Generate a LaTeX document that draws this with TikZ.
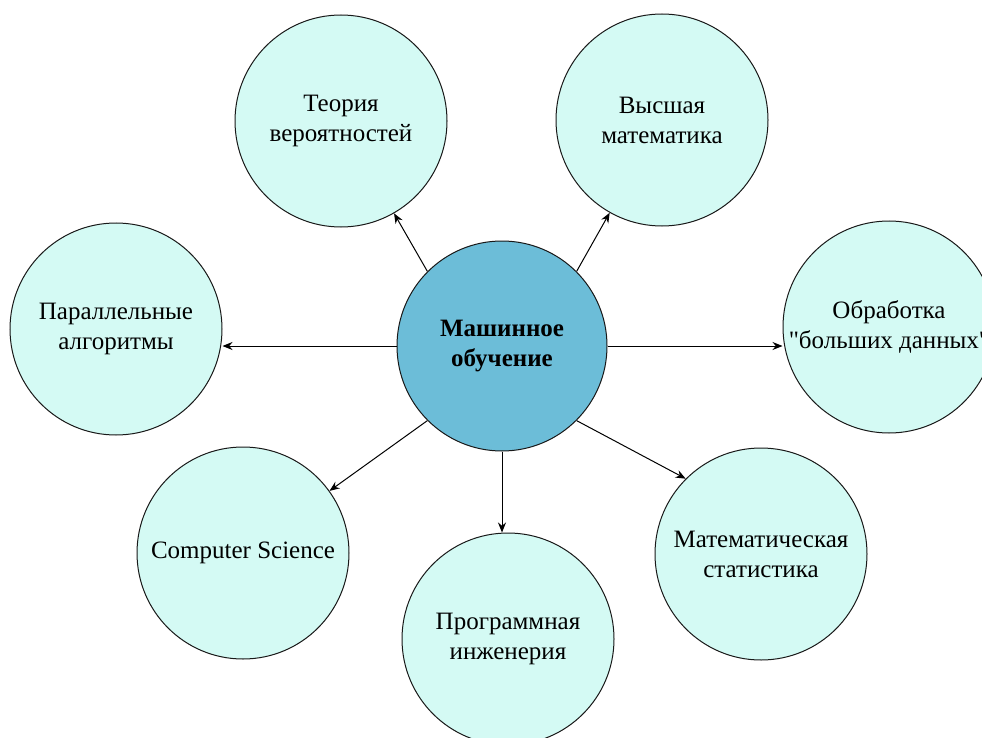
\documentclass[tikz,border=0pt]{standalone}
\usepackage{fontspec}
\setmainfont{Liberation Serif}
\usetikzlibrary{arrows.meta}
\definecolor{hubfill}{HTML}{6CBDD8}
\definecolor{leaffill}{HTML}{D4FAF4}
% straight double quote, set as a glyph so the TeX ligature mapping leaves it alone
\newcommand\dquote{\XeTeXglyph\XeTeXcharglyph"22\relax}
\begin{document}
\begin{tikzpicture}[x=1pt,y=-1pt,
  bubble/.style={circle, draw=black!90, line width=1pt, fill=leaffill,
    minimum size=212pt, inner sep=0pt, align=center,
    font=\fontsize{25}{30}\selectfont},
  hub/.style={bubble, fill=hubfill, minimum size=210pt,
    font=\fontsize{25}{30}\selectfont\bfseries},
  link/.style={line width=1pt, -{Stealth[length=10pt,width=8pt]}}]
\fill[white] (0,0) rectangle (982,738);
\clip (0,0) rectangle (982,738);

% central topic
\node[hub] (ml) at (502,346) {Машинное\\обучение};

% surrounding disciplines
\node[bubble] (prob) at (341,121) {Теория\\вероятностей};
\node[bubble] (math) at (662,120) {Высшая\\математика};
\node[bubble] (par)  at (116,329) {Параллельные\\алгоритмы};
\node[bubble] (big)  at (889,327) {Обработка\\\dquote больших данных\dquote};
\node[bubble] (cs)   at (243,553) {Computer Science};
\node[bubble] (soft) at (508,639) {Программная\\инженерия};
\node[bubble] (stat) at (761,554) {Математическая\\статистика};

% connectors
\draw[link] (ml.135) -- (prob);
\draw[link] (ml.45)  -- (math);
\draw[link] (ml.west) -- (ml.west -| par.east);
\draw[link] (ml.east) -- (ml.east -| big.west);
\draw[link] (ml.225) -- (cs);
\draw[link] (ml.south) -- (ml.south |- soft.north);
\draw[link] (ml.315) -- (stat.135);
\end{tikzpicture}
\end{document}
